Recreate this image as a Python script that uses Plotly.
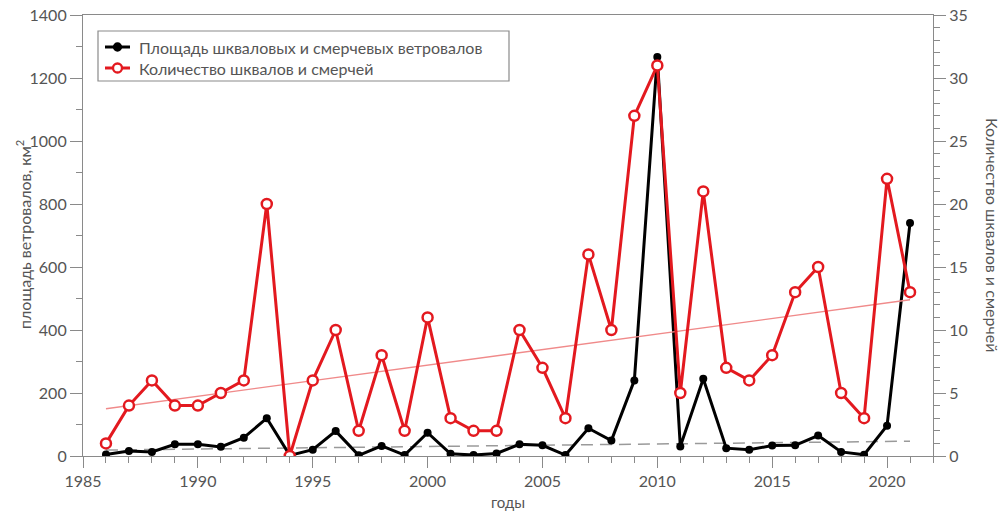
import plotly.graph_objects as go

years = list(range(1986, 2022))
area_km2 = [5, 16, 13, 37, 37, 29, 58, 120, 2, 20, 79, 2, 32, 3, 74, 7, 3, 8,
            37, 34, 3, 88, 49, 240, 1267, 30, 245, 25, 20, 33, 34, 65, 13, 4, 96, 740]
storm_count = [1, 4, 6, 4, 4, 5, 6, 20, 0, 6, 10, 2, 8, 2, 11, 3, 2, 2,
               10, 7, 3, 16, 10, 27, 31, 5, 21, 7, 6, 8, 13, 15, 5, 3, 22, 13]

trend_years = [1986, 2021]
area_trend = [19, 47]
count_trend = [3.75, 12.4]

name_area = "Площадь шкваловых и смерчевых ветровалов"
name_count = "Количество шквалов и смерчей"
title_x = "годы"
title_y = "площадь ветровалов, км<sup>2</sup>"

RED = "#e3191f"
GRAY = "#8a8a8a"
TXT = "#555555"
FONT = "Lato"

W, H = 1006, 511
ML, MR, MT, MB = 83, 73, 15, 55
PW, PH = W - ML - MR, H - MT - MB


def px(xp):
    return (xp - ML) / PW


def py(yp):
    return 1 - (yp - MT) / PH


fig = go.Figure()

fig.add_trace(go.Scatter(x=trend_years, y=area_trend, mode="lines",
                         line=dict(color="#9a9a9a", width=1.5, dash="12px,7px"),
                         showlegend=False, hoverinfo="skip"))
fig.add_trace(go.Scatter(x=years, y=area_km2, mode="lines+markers", name=name_area,
                         line=dict(color="black", width=3),
                         marker=dict(color="black", size=8, symbol="circle"),
                         showlegend=False))
fig.add_trace(go.Scatter(x=trend_years, y=count_trend, mode="lines", yaxis="y2",
                         line=dict(color="#f08a8a", width=1.3),
                         showlegend=False, hoverinfo="skip"))
fig.add_trace(go.Scatter(x=years, y=storm_count, mode="lines+markers", name=name_count,
                         yaxis="y2",
                         line=dict(color=RED, width=3),
                         marker=dict(color="white", size=10, symbol="circle",
                                     line=dict(color=RED, width=2.5)),
                         showlegend=False))

axis_common = dict(showline=True, linecolor=GRAY, linewidth=1.2, showgrid=False,
                   zeroline=False, ticks="outside", tickcolor=GRAY, tickwidth=1.2,
                   automargin=False, ticklabeloverflow="allow",
                   tickfont=dict(family=FONT, size=16, color=TXT))

fig.update_layout(
    width=W, height=H,
    margin=dict(l=ML, r=MR, t=MT, b=MB, autoexpand=False),
    paper_bgcolor="white", plot_bgcolor="white",
    font=dict(family=FONT, size=16, color=TXT),
    xaxis=dict(range=[1985, 2022], tick0=1985, dtick=5, ticklen=11, mirror=True,
               minor=dict(dtick=1, ticklen=6, tickcolor=GRAY, ticks="outside"),
               **axis_common),
    yaxis=dict(range=[0, 1400], dtick=200, ticklen=12,
               minor=dict(dtick=100, ticklen=6, tickcolor=GRAY, ticks="outside"),
               **axis_common),
    yaxis2=dict(range=[0, 35], dtick=5, ticklen=12, overlaying="y", side="right",
                minor=dict(dtick=1, ticklen=6, tickcolor=GRAY, ticks="outside"),
                **axis_common),
    showlegend=False,
)

# axis titles
fig.add_annotation(text=title_x, xref="paper", yref="paper", x=px(508), y=py(502),
                   xanchor="center", yanchor="middle", showarrow=False,
                   font=dict(family=FONT, size=15, color=TXT))
fig.add_annotation(text=title_y, textangle=-90, xref="paper", yref="paper",
                   x=px(23), y=py(235), xanchor="center", yanchor="middle",
                   showarrow=False, font=dict(family=FONT, size=16, color=TXT))
fig.add_annotation(text=name_count, textangle=90, xref="paper", yref="paper",
                   x=px(993), y=py(235), xanchor="center", yanchor="middle",
                   showarrow=False, font=dict(family=FONT, size=16, color=TXT))

# legend box drawn manually
shapes = [dict(type="rect", xref="paper", yref="paper", x0=px(98), x1=px(509),
               y0=py(81), y1=py(31), line=dict(color=GRAY, width=1.2),
               fillcolor="white", layer="above")]
legend_rows = [(name_area, 47, "black", "black", 7),
               (name_count, 68, RED, "white", 9)]
for label, yrow, col, fill, msize in legend_rows:
    shapes.append(dict(type="line", xref="paper", yref="paper", x0=px(105), x1=px(130),
                       y0=py(yrow), y1=py(yrow), line=dict(color=col, width=3),
                       layer="above"))
    shapes.append(dict(type="circle", xref="paper", yref="paper",
                       xsizemode="pixel", ysizemode="pixel",
                       xanchor=px(117.5), yanchor=py(yrow),
                       x0=-msize / 2, x1=msize / 2, y0=-msize / 2, y1=msize / 2,
                       line=dict(color=col, width=2.3), fillcolor=fill, layer="above"))
    fig.add_annotation(text=label, xref="paper", yref="paper", x=px(137), y=py(yrow),
                       xanchor="left", yanchor="middle", showarrow=False,
                       font=dict(family=FONT, size=16, color=TXT))
fig.update_layout(shapes=shapes)

# remove the browser's default 8px body margin so the figure fills the window
fig.write_html("out.html",
               config={"displayModeBar": False},
               post_script="document.body.style.margin='0';document.body.style.overflow='hidden';")
